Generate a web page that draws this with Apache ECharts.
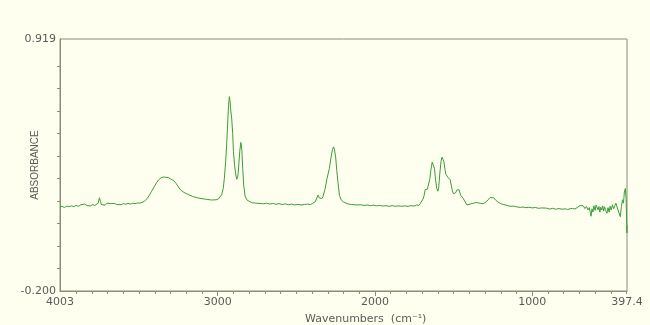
<!DOCTYPE html>
<html>
<head>
<meta charset="utf-8">
<script src="https://cdn.jsdelivr.net/npm/echarts@6/dist/echarts.min.js"></script>
<style>
  html, body { margin: 0; padding: 0; background: #fffff0; }
  #chart { width: 650px; height: 325px; }
</style>
</head>
<body>
<div id="chart"></div>
<script>
// spectrum: wavenumber (cm-1) / absorbance
const wavenumbers = [
  4003, 3990, 3975, 3960, 3945, 3930, 3915, 3900, 3885, 3870, 3858, 3845, 3832, 3820, 3808, 3795,
  3782, 3770, 3760, 3752, 3746, 3740, 3728, 3716, 3704, 3692, 3680, 3668, 3655, 3642, 3630, 3615,
  3600, 3585, 3570, 3555, 3540, 3525, 3510, 3495, 3480, 3465, 3450, 3435, 3420, 3405, 3390, 3375,
  3360, 3345, 3330, 3316, 3300, 3280, 3265, 3250, 3235, 3215, 3190, 3160, 3130, 3100, 3070, 3040,
  3010, 2995, 2985, 2975, 2965, 2958, 2950, 2942, 2936, 2930, 2926, 2922, 2916, 2911, 2905, 2900,
  2893, 2886, 2879, 2872, 2866, 2860, 2853, 2847, 2841, 2835, 2826, 2815, 2800, 2780, 2760, 2731,
  2710, 2690, 2670, 2650, 2630, 2610, 2590, 2570, 2550, 2530, 2510, 2490, 2470, 2450, 2430, 2410,
  2395, 2380, 2370, 2362, 2355, 2345, 2338, 2330, 2317, 2305, 2290, 2278, 2270, 2264, 2258, 2250,
  2243, 2235, 2226, 2215, 2200, 2190, 2170, 2150, 2115, 2090, 2070, 2050, 2030, 2010, 1990, 1970,
  1950, 1930, 1910, 1890, 1870, 1850, 1830, 1810, 1790, 1770, 1750, 1734, 1720, 1710, 1702, 1695,
  1688, 1681, 1674, 1667, 1660, 1652, 1644, 1636, 1628, 1622, 1614, 1607, 1600, 1594, 1588, 1580,
  1574, 1568, 1562, 1555, 1549, 1543, 1536, 1529, 1522, 1515, 1508, 1501, 1494, 1487, 1480, 1473,
  1466, 1462, 1455, 1447, 1440, 1430, 1415, 1395, 1375, 1352, 1330, 1310, 1295, 1280, 1268, 1256,
  1245, 1232, 1218, 1203, 1185, 1165, 1140, 1120, 1100, 1076, 1060, 1040, 1020, 1000, 980, 960,
  940, 928, 910, 890, 870, 850, 830, 810, 790, 775, 760, 745, 730, 715, 705, 695,
  685, 675, 665, 655, 645, 637, 631, 626, 620, 614, 608, 600, 594, 588, 582, 576,
  570, 564, 558, 552, 546, 540, 534, 525, 518, 511, 505, 498, 490, 483, 475, 468,
  461, 455, 447, 440, 433, 426, 420, 414, 408, 403, 400, 398, 397.4
];
const absorbance = [
  0.172, 0.176, 0.171, 0.177, 0.174, 0.178, 0.175, 0.180, 0.176, 0.183, 0.177, 0.186, 0.179, 0.182, 0.178, 0.184,
  0.180, 0.186, 0.190, 0.214, 0.198, 0.184, 0.192, 0.181, 0.190, 0.183, 0.188, 0.182, 0.189, 0.184, 0.187, 0.183,
  0.188, 0.185, 0.189, 0.186, 0.190, 0.188, 0.191, 0.190, 0.194, 0.199, 0.210, 0.225, 0.243, 0.262, 0.280, 0.294,
  0.303, 0.306, 0.305, 0.304, 0.298, 0.290, 0.278, 0.262, 0.248, 0.238, 0.229, 0.220, 0.214, 0.210, 0.207, 0.204,
  0.205, 0.209, 0.215, 0.228, 0.255, 0.300, 0.370, 0.465, 0.560, 0.635, 0.663, 0.645, 0.595, 0.565, 0.500, 0.420,
  0.360, 0.320, 0.296, 0.310, 0.360, 0.420, 0.460, 0.430, 0.345, 0.270, 0.222, 0.205, 0.198, 0.192, 0.190, 0.189,
  0.187, 0.190, 0.186, 0.189, 0.185, 0.188, 0.184, 0.187, 0.183, 0.186, 0.182, 0.185, 0.182, 0.184, 0.186, 0.184,
  0.190, 0.196, 0.194, 0.226, 0.214, 0.215, 0.210, 0.220, 0.255, 0.300, 0.344, 0.400, 0.428, 0.440, 0.430, 0.395,
  0.335, 0.280, 0.225, 0.205, 0.195, 0.189, 0.186, 0.184, 0.182, 0.183, 0.180, 0.182, 0.179, 0.181, 0.178, 0.180,
  0.177, 0.179, 0.176, 0.179, 0.176, 0.178, 0.176, 0.178, 0.176, 0.179, 0.177, 0.182, 0.180, 0.190, 0.196, 0.208,
  0.222, 0.250, 0.254, 0.252, 0.258, 0.295, 0.340, 0.372, 0.376, 0.345, 0.290, 0.255, 0.243, 0.265, 0.320, 0.375,
  0.395, 0.398, 0.375, 0.340, 0.318, 0.310, 0.305, 0.310, 0.294, 0.270, 0.245, 0.232, 0.226, 0.236, 0.248, 0.252,
  0.250, 0.244, 0.225, 0.225, 0.212, 0.200, 0.182, 0.186, 0.190, 0.193, 0.189, 0.188, 0.195, 0.205, 0.215, 0.220,
  0.214, 0.203, 0.195, 0.189, 0.184, 0.181, 0.176, 0.177, 0.174, 0.171, 0.173, 0.170, 0.172, 0.169, 0.171, 0.167,
  0.169, 0.165, 0.168, 0.164, 0.167, 0.163, 0.166, 0.163, 0.165, 0.162, 0.165, 0.167, 0.164, 0.170, 0.175, 0.180,
  0.172, 0.178, 0.166, 0.175, 0.160, 0.170, 0.150, 0.132, 0.165, 0.150, 0.178, 0.158, 0.182, 0.185, 0.160, 0.175,
  0.150, 0.172, 0.160, 0.178, 0.155, 0.174, 0.158, 0.145, 0.170, 0.150, 0.176, 0.160, 0.183, 0.165, 0.178, 0.190,
  0.188, 0.160, 0.168, 0.130, 0.175, 0.205, 0.190, 0.240, 0.255, 0.210, 0.120, 0.058, 0.090
];

const xLabelValues = [4003, 3000, 2000, 1000, 397.4];
const xMinorTicks = [3900, 3800, 3700, 3600, 3500, 3400, 3300, 3200, 3100, 2900, 2800, 2700, 2600, 2500,
  2400, 2300, 2200, 2100, 1900, 1800, 1700, 1600, 1500, 1400, 1300, 1200, 1100, 900, 800, 700, 600, 500, 400];
const xMajorTicks = [3000, 2000, 1000];
const yLabelValues = [-0.2, 0.919];
const yTicks = [-0.1, 0, 0.1, 0.2, 0.3, 0.4, 0.5, 0.6, 0.7, 0.8];

const axisColor = "#8c8c78";
const textColor = "#5a5a5a";
const fontFamily = "DejaVu Sans";

const chart = echarts.init(document.getElementById("chart"), null, { renderer: "canvas" });

const option = {
  backgroundColor: "#fffff0",
  animation: false,
  grid: {
    left: 60,
    top: 39,
    right: 23,
    bottom: 34,
    show: true,
    borderColor: axisColor,
    borderWidth: 1,
    backgroundColor: "transparent"
  },
  xAxis: [
    {
      type: "value",
      min: 397.4,
      max: 4003,
      inverse: true,
      axisLine: { show: true, onZero: false, lineStyle: { color: axisColor, width: 1 } },
      axisTick: { show: true, customValues: xMinorTicks, length: 3, lineStyle: { color: axisColor } },
      axisLabel: {
        show: true,
        customValues: xLabelValues,
        formatter: (v) => (v === 397.4 ? "397.4" : String(v)),
        color: textColor,
        fontFamily,
        fontSize: 11,
        margin: 6
      },
      splitLine: { show: false }
    },
    {
      type: "value",
      min: 397.4,
      max: 4003,
      inverse: true,
      position: "bottom",
      axisLine: { show: false, onZero: false },
      axisTick: { show: true, customValues: xMajorTicks, length: 5, lineStyle: { color: axisColor } },
      axisLabel: { show: false },
      splitLine: { show: false }
    }
  ],
  yAxis: {
    type: "value",
    min: -0.2,
    max: 0.919,
    axisLine: { show: true, onZero: false, lineStyle: { color: axisColor, width: 1 } },
    axisTick: { show: true, customValues: yTicks, length: 3, lineStyle: { color: axisColor } },
    axisLabel: {
      show: true,
      customValues: yLabelValues,
      formatter: (v) => (v === -0.2 ? "-0.200" : "0.919"),
      color: textColor,
      fontFamily,
      fontSize: 11,
      margin: 4
    },
    splitLine: { show: false }
  },
  graphic: [
    {
      type: "text",
      left: 305,
      top: 314,
      style: { text: "Wavenumbers  (cm\u207B\u00B9)", fill: textColor, font: "11px DejaVu Sans" }
    },
    {
      type: "text",
      x: 35,
      y: 165,
      rotation: Math.PI / 2,
      style: {
        text: "ABSORBANCE",
        fill: textColor,
        font: "10px Liberation Sans",
        align: "center",
        verticalAlign: "middle"
      }
    }
  ],
  series: [
    {
      type: "line",
      xAxisIndex: 0,
      data: wavenumbers.map((w, i) => [w, absorbance[i]]),
      showSymbol: false,
      smooth: false,
      lineStyle: { color: "#3a9d3a", width: 1 },
      clip: true
    }
  ]
};

chart.setOption(option);
</script>
</body>
</html>
